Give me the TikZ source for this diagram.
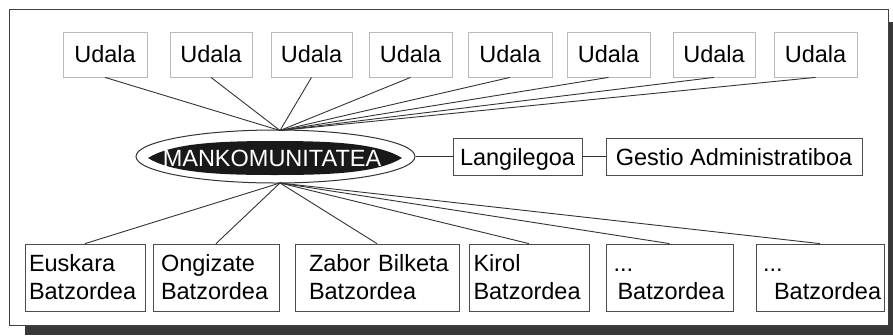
\documentclass[tikz,border=0pt]{standalone}
\usepackage{fontspec}
\setmainfont{Liberation Sans}
\usetikzlibrary{shapes.geometric}
\begin{document}
\begin{tikzpicture}[x=1pt,y=-1pt,
  every node/.style={font=\fontsize{23.5}{28}\selectfont, inner sep=0pt},
  udbox/.style={draw=gray!55, line width=0.8pt, minimum height=45pt, fill=white},
  midbox/.style={draw=black!70, line width=0.8pt, minimum height=37pt, text depth=0pt},
  lowbox/.style 2 args={draw=black!70, line width=0.8pt, minimum height=67pt, align=left, text width=#1pt, inner xsep=#2pt},
  link/.style={draw=black!80, line width=0.9pt}]
\useasboundingbox (0,0) rectangle (893,335);
% shadow and frame
\fill[black!78] (25,326) rectangle (893,335);
\fill[black!78] (889,22) rectangle (893,335);
\draw[black!75, line width=1pt, fill=white] (9,9) rectangle (888,325);

% Udala boxes
\node[udbox, minimum width=84pt] (u1) at (105,54.5) {Udala};
\node[udbox, minimum width=82pt] (u2) at (211,54.5) {Udala};
\node[udbox, minimum width=81pt] (u3) at (311.5,54.5) {Udala};
\node[udbox, minimum width=83pt] (u4) at (410.5,54.5) {Udala};
\node[udbox, minimum width=84pt] (u5) at (510,54.5) {Udala};
\node[udbox, minimum width=83pt] (u6) at (608.5,54.5) {Udala};
\node[udbox, minimum width=82pt] (u7) at (714,54.5) {Udala};
\node[udbox, minimum width=83pt] (u8) at (815.5,54.5) {Udala};

% central ellipse
\node[ellipse, draw=black!80, line width=1pt, fill=white, minimum width=279pt, minimum height=53pt] (mank) at (275.5,156.5) {};
\fill[black!90] (148,158) .. controls (172,143) and (220,141) .. (275,141)
  .. controls (330,141) and (378,143) .. (402,158)
  .. controls (378,173) and (330,175) .. (275,175)
  .. controls (220,175) and (172,173) .. (148,158) -- cycle;
\node[text=white] (mankt) at (272,158) {MANKOMUNITATEA};
\coordinate (hubN) at (280,130.5);
\coordinate (hubS) at (280,183);

% side boxes
\node[midbox, minimum width=129pt] (lang) at (517.5,156.5) {Langilegoa};
\node[midbox, minimum width=256pt] (gest) at (734,156.5) {Gestio Administratiboa};

% lower boxes
\node[lowbox={112}{4}] (b1) at (85,277.5) {\rule{0pt}{16pt}\mbox{Euskara}\\\mbox{Batzordea}};
\node[lowbox={110}{8}] (b2) at (216,277.5) {\rule{0pt}{16pt}\mbox{Ongizate}\\\mbox{Batzordea}};
\node[lowbox={136}{14}] (b3) at (377,277.5) {\rule{0pt}{16pt}\mbox{Zabor Bilketa}\\\mbox{Batzordea}};
\node[lowbox={111}{4.5}] (b4) at (529,277.5) {\rule{0pt}{16pt}\mbox{Kirol}\\\mbox{Batzordea}};
\node[lowbox={112}{7.5}] (b5) at (669.5,277.5) {\rule{0pt}{16pt}\mbox{...}\\\mbox{\hspace*{4pt}Batzordea}};
\node[lowbox={114}{7}] (b6) at (820,277.5) {\rule{0pt}{16pt}\mbox{...}\\\mbox{\hspace*{11pt}Batzordea}};

% connectors
\foreach \n in {u1,u2,u3,u4,u5,u6,u7,u8} \draw[link] (\n.south) -- (hubN);
\foreach \n in {b1,b2,b3,b4,b5,b6} \draw[link] (\n.north) -- (hubS);
\draw[link] (mank.east) -- (lang.west);
\draw[link] (lang.east) -- (gest.west);
\end{tikzpicture}
\end{document}
